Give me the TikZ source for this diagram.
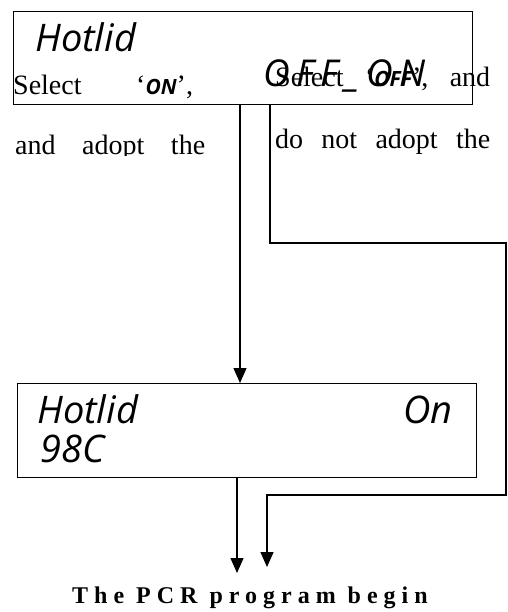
\documentclass[tikz,border=0pt]{standalone}
\usepackage{fontspec}
\setmainfont{Liberation Serif}
\newfontfamily\handfont{Open Sans}
\usetikzlibrary{arrows.meta}

\begin{document}
\begin{tikzpicture}[x=1pt,y=-1pt]
	\tikzstyle{panel} = [draw,line width=1pt,anchor=north west,inner sep=0pt]
	\tikzstyle{lcd} = [anchor=base west,inner sep=0pt,font=\handfont\itshape\fontsize{38}{38}\selectfont]
	\tikzstyle{say} = [anchor=base west,inner sep=0pt,font=\fontsize{28}{28}\selectfont]
	\tikzstyle{flow} = [-{Triangle[width=13pt,length=15pt]},line width=1.3pt]

	\useasboundingbox (0,0) rectangle (507,612);

	\node[panel,minimum width=459pt,minimum height=93pt] (top) at (13,11) {};
	\node[panel,minimum width=459pt,minimum height=94pt] (low) at (17,383) {};

	\node[lcd] (hot1) at (35,52) {Hotlid};
	\node[lcd] (hot2) at (37,423) {Hotlid};
	\node[lcd] (on2) at (403,423) {On};
	\node[lcd] (temp) at (40,462) {98C};
	\node[lcd,font=\handfont\itshape\fontsize{37}{37}\selectfont\addfontfeature{LetterSpace=18}] (offon) at (263,87) {OFF\_ON};

	\node[say] (sel1) at (13,95) {Select};
	\node[say] (on1) at (136,95) {‘{\handfont\bfseries\itshape\fontsize{21}{21}\selectfont ON}’,};
	\node[say] (sel2) at (275,87) {\makebox[215pt][s]{Select ‘{\handfont\bfseries\itshape\fontsize{21}{21}\selectfont OFF}’, and}};
	\begin{scope}
		\clip (0,120) rectangle (235,156);
		\node[say] (adopt) at (15,155) {\makebox[190pt][s]{and adopt the}};
	\end{scope}
	\node[say] (noadopt) at (275,149) {\makebox[215pt][s]{do not adopt the}};

	\node[anchor=base,inner sep=0pt,font=\bfseries\fontsize{24}{24}\selectfont\addfontfeature{LetterSpace=25}] (pcr) at (250,603) {The PCR program begin};

	\coordinate (onx) at (240,0);
	\coordinate (offx) at (270,0);
	\coordinate (c1) at (506,243);
	\coordinate (c2) at (267,495);
	\coordinate (e1) at (237,573);
	\coordinate (e2) at (267,567);

	\draw[flow] (top.south -| onx) -- (low.north -| onx);
	\draw[flow] (top.south -| offx) |- (c1) |- (c2) -- (e2);
	\draw[flow] (low.south -| e1) -- (e1);
\end{tikzpicture}
\end{document}
